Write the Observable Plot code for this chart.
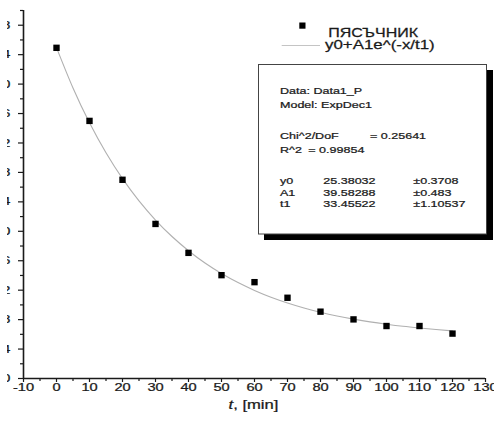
<!DOCTYPE html>
<html><head><meta charset="utf-8">
<script src="https://cdn.jsdelivr.net/npm/d3@7"></script>
<script src="https://cdn.jsdelivr.net/npm/@observablehq/plot@0.6"></script>
<style>
html,body{margin:0;padding:0;background:#fff;}
#wrap{position:relative;width:494px;height:432px;overflow:hidden;background:#fff;font-family:"Liberation Sans",Arial,sans-serif;}
#chart{position:absolute;left:7px;top:0;}
#overlay{position:absolute;left:0;top:0;}
svg text{stroke:#1a1a1a;stroke-width:0.25px;}
</style></head><body>
<div id="wrap"><div id="chart"></div><svg id="overlay" width="494" height="432"></svg></div>
<script>
// measured samples
const times = [0, 10, 20, 30, 40, 50, 60, 70, 80, 90, 100, 110, 120];
const values = [64.93, 55.0, 47.0, 41.0, 37.07, 34.04, 33.09, 30.97, 29.08, 28.03, 27.13, 27.13, 26.1];
// fitted curve
const fitTimes = [0, 5, 10, 15, 20, 25, 30, 35, 40, 45, 50, 55, 60, 65, 70, 75, 80, 85, 90, 95, 100, 105, 110, 115, 120];
const fitValues = [64.96, 59.47, 54.74, 50.66, 47.15, 44.13, 41.53, 39.29, 37.36, 35.69, 34.26, 33.03, 31.97, 31.05, 30.27, 29.59, 29.0, 28.5, 28.07, 27.69, 27.37, 27.09, 26.86, 26.65, 26.47];
// ticks
const xTicks = [-10, 0, 10, 20, 30, 40, 50, 60, 70, 80, 90, 100, 110, 120, 130];
const xMinorTicks = [-5, 5, 15, 25, 35, 45, 55, 65, 75, 85, 95, 105, 115, 125];
const yTicks = [20, 24, 28, 32, 36, 40, 44, 48, 52, 56, 60, 64, 68];
const yMinorTicks = [22, 26, 30, 34, 38, 42, 46, 50, 54, 58, 62, 66, 70];
// legend & fit report text
const seriesName = "ПЯСЪЧНИК";
const fitName = "y0+A1e^(-x/t1)";
const xLabelItalic = "t";
const xLabelRest = ", [min]";
const reportLines = ["Data: Data1_P", "Model: ExpDec1"];
const chiLabel = "Chi^2/DoF", chiValue = "= 0.25641";
const r2Label = "R^2", r2Value = "= 0.99854";
const paramNames = ["y0", "A1", "t1"];
const paramValues = ["25.38032", "39.58288", "33.45522"];
const paramErrors = ["±0.3708", "±0.483", "±1.10537"];

const points = times.map((t, i) => ({t, v: values[i]}));
const fit = fitTimes.map((t, i) => ({t, v: fitValues[i]}));

const FONT = "Liberation Sans, Arial, Helvetica, sans-serif";
const plot = Plot.plot({
  width: 487, height: 432,
  marginLeft: 16, marginRight: 9, marginTop: 10, marginBottom: 54,
  style: {fontFamily: FONT, fontSize: "11px", color: "#1a1a1a", background: "white", overflow: "hidden"},
  x: {domain: [-10, 130]},
  y: {domain: [20, 70]},
  marks: [
    Plot.axisX({ticks: xTicks, tickSize: 4, tickPadding: 1, label: null, tickFormat: d => String(d), strokeWidth: 1.2}),
    Plot.axisX({ticks: xMinorTicks, tickSize: 3, label: null, tickFormat: () => "", strokeWidth: 1.2}),
    Plot.axisY({ticks: yTicks, tickSize: 5, tickPadding: 8, label: null, tickFormat: d => String(d), strokeWidth: 1.2}),
    Plot.axisY({ticks: yMinorTicks, tickSize: 3, label: null, tickFormat: () => "", strokeWidth: 1.2}),
    Plot.ruleX([-10], {stroke: "#1a1a1a", strokeWidth: 1.6}),
    Plot.ruleY([20], {stroke: "#1a1a1a", strokeWidth: 1.6}),
    Plot.line(fit, {x: "t", y: "v", curve: "natural", stroke: "#b0b0b0", strokeWidth: 1.1}),
    Plot.dot(points, {x: "t", y: "v", symbol: "square", r: 3.6, fill: "#000", stroke: null})
  ]
});
document.getElementById("chart").appendChild(plot);

// widen tick label glyphs like the reference
const SX = 1.33;
d3.select(plot).selectAll("text").each(function() {
  const el = d3.select(this);
  const x = +el.attr("x") || 0;
  if (el.attr("x") != null) el.attr("x", null);
  const tr = el.attr("transform") || "";
  el.attr("transform", `${tr} translate(${x},0) scale(${SX},1)`);
});

// overlay: legend, fit report, x label
const ov = d3.select("#overlay");
function txt(x, y, s, size, sx, opts = {}) {
  const t = ov.append("text")
    .attr("transform", `translate(${x},${y}) scale(${sx},1)`)
    .attr("font-family", FONT).attr("font-size", size).attr("fill", opts.fill || "#1a1a1a")
    .attr("text-anchor", opts.anchor || "start");
  return t.text(s);
}
// legend
ov.append("rect").attr("x", 299.3).attr("y", 22.5).attr("width", 6.2).attr("height", 6.2).attr("fill", "#000");
txt(328.3, 36.5, seriesName, 12.5, 1.28);
ov.append("line").attr("x1", 281.7).attr("x2", 320).attr("y1", 45.5).attr("y2", 45.5).attr("stroke", "#c4c4c4").attr("stroke-width", 1);
txt(325, 48.5, fitName, 13, 1.3);

// report box
ov.append("rect").attr("x", 264).attr("y", 70).attr("width", 229).attr("height", 170).attr("fill", "#000");
ov.append("rect").attr("x", 258.5).attr("y", 64.5).attr("width", 228).attr("height", 169.5).attr("fill", "#fff").attr("stroke", "#444").attr("stroke-width", 1);
const FS = 9.5, BS = 1.32;
txt(280, 94.3, reportLines[0], FS, BS);
txt(280, 108, reportLines[1], FS, BS);
txt(280, 139.3, chiLabel, FS, BS);
txt(370, 139.3, chiValue, FS, BS);
txt(280, 152.7, r2Label, FS, BS);
txt(308.3, 152.7, r2Value, FS, BS);
const rowsY = [184, 195.5, 207];
paramNames.forEach((n, i) => {
  txt(280, rowsY[i], n, FS, BS);
  txt(323.3, rowsY[i], paramValues[i], FS, BS);
  txt(413.3, rowsY[i], paramErrors[i], FS, BS);
});

// x-axis title
const xt = ov.append("text")
  .attr("transform", `translate(253.5,408.5) scale(1.33,1)`)
  .attr("font-family", FONT).attr("font-size", 12.5).attr("fill", "#1a1a1a").attr("text-anchor", "middle");
xt.append("tspan").attr("font-style", "italic").text(xLabelItalic);
xt.append("tspan").text(xLabelRest);
</script>
</body></html>
